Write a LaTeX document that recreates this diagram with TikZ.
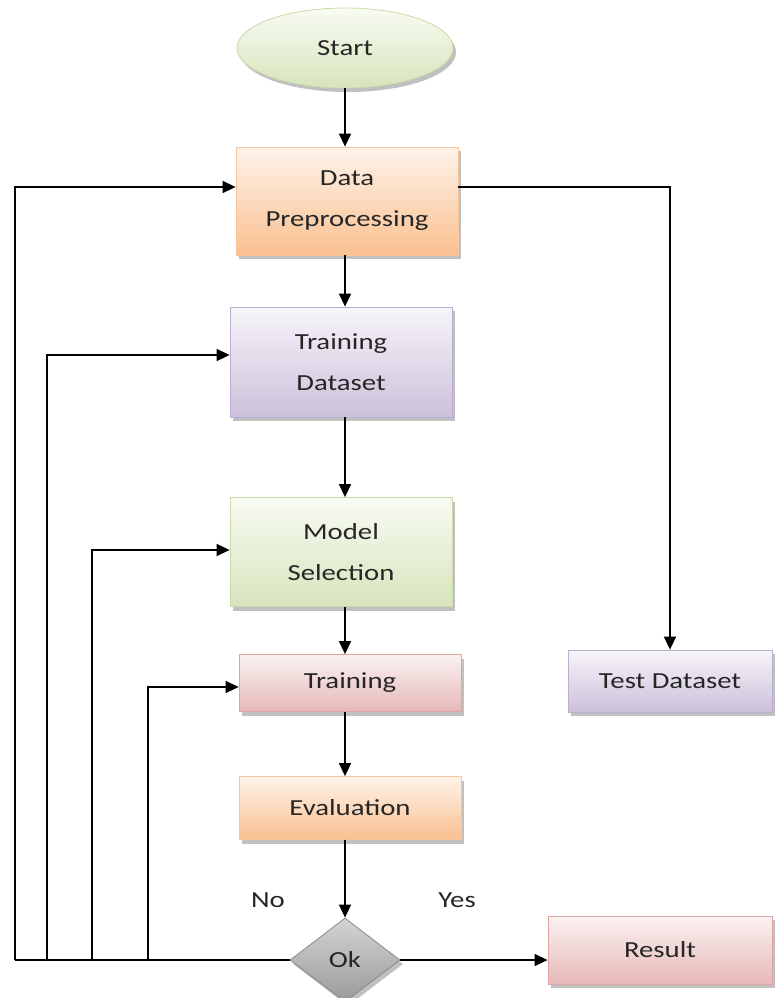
\documentclass[tikz,border=0pt]{standalone}
\usepackage{fontspec}
\setmainfont[FakeStretch=1.25]{Carlito}
\usetikzlibrary{arrows.meta,shapes.geometric,shadows}

% fill and border colours of the flowchart blocks
\definecolor{orTop}{HTML}{FEF3EA}\definecolor{orBot}{HTML}{FAC090}\definecolor{orLine}{HTML}{F9C59C}
\definecolor{puTop}{HTML}{F7F4FA}\definecolor{puBot}{HTML}{CCC1DA}\definecolor{puLine}{HTML}{BBAED0}
\definecolor{grTop}{HTML}{F8FBF2}\definecolor{grBot}{HTML}{D7E4BD}\definecolor{grLine}{HTML}{C9DAA8}
\definecolor{reTop}{HTML}{FBF1F1}\definecolor{reBot}{HTML}{E6B9B8}\definecolor{reLine}{HTML}{DDA5A4}
\definecolor{gyTop}{HTML}{D4D4D4}\definecolor{gyBot}{HTML}{9A9A9A}\definecolor{gyLine}{HTML}{8A8A8A}
\definecolor{ink}{HTML}{262626}

\begin{document}
\begin{tikzpicture}[x=1pt,y=-1pt,
  font=\fontsize{23}{41}\selectfont, text=ink,
  shade/.style={drop shadow={shadow xshift=3pt,shadow yshift=-4pt,fill=black!45,opacity=0.55}},
  block/.style 2 args={rectangle, minimum width=222pt, align=center, inner sep=0pt,
    draw=#1Line, line width=0.8pt, top color=#1Top, bottom color=#1Bot, shade, minimum height=#2},
  arr/.style={line width=1.5pt, draw=black, -{Triangle[length=13pt,width=12pt]}},
  wire/.style={line width=1.5pt, draw=black}]

\useasboundingbox (0,0) rectangle (782,998);

% main column
\node[ellipse, minimum width=216pt, minimum height=80pt, inner sep=0pt,
      draw=grLine, line width=0.8pt, top color=grTop, bottom color=grBot, shade]
      (start) at (345,48) {Start};
\node[block={or}{108pt}] (dp)  at (347,201) {Data\\Preprocessing};
\node[block={pu}{110pt}] (td)  at (341,362) {Training\\Dataset};
\node[block={gr}{109pt}] (ms)  at (341,552) {Model\\Selection};
\node[block={re}{57pt}]  (tr)  at (350,683) {Training};
\node[block={or}{63pt}]  (ev)  at (350,808) {Evaluation};
\node[diamond, minimum width=110pt, minimum height=84pt, inner sep=0pt,
      draw=gyLine, line width=0.8pt, top color=gyTop, bottom color=gyBot, shade]
      (ok) at (345,960) {Ok};

% side blocks
\node[block={pu}{62pt}, minimum width=204pt] (test) at (670,681) {Test Dataset};
\node[block={re}{68pt}, minimum width=224pt] (res)  at (660,950) {Result};

% decision labels
\node (no)  at (268,900) {No};
\node (yes) at (457,900) {Yes};

% main flow
\draw[arr] (start) -- (start |- dp.north);
\draw[arr] (start |- dp.south) -- (start |- td.north);
\draw[arr] (start |- td.south) -- (start |- ms.north);
\draw[arr] (start |- ms.south) -- (start |- tr.north);
\draw[arr] (start |- tr.south) -- (start |- ev.north);
\draw[arr] (start |- ev.south) -- (ok.north);
\draw[arr] (ok.east) -- (ok.east -| res.west);
\draw[arr] ([yshift=14pt]dp.east) -| (test.north);

% feedback loops from the decision
\coordinate (l1) at (15,960);
\coordinate (l2) at (47,960);
\coordinate (l3) at (92,960);
\coordinate (l4) at (148,960);
\draw[wire] (ok.west) -- (l1);
\draw[arr] (l1) |- ([yshift=14pt]dp.west);
\draw[arr] (l2) |- ([yshift=7pt]td.west);
\draw[arr] (l3) |- ([yshift=2pt]ms.west);
\draw[arr] (l4) |- ([yshift=-4pt]tr.west);

\end{tikzpicture}
\end{document}
